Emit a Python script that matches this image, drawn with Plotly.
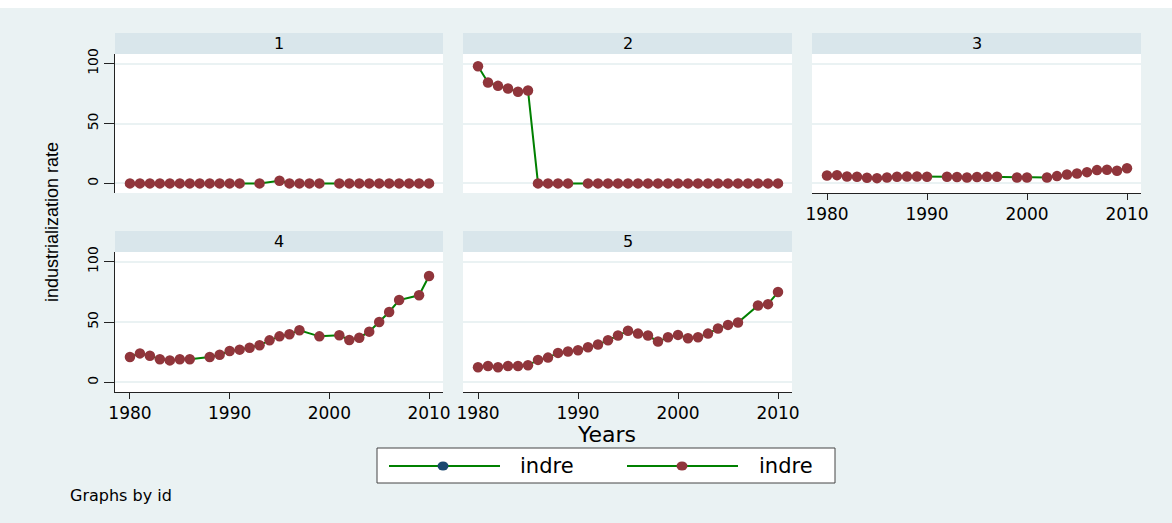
import plotly.graph_objects as go

# ---------------- data ----------------
years = list(range(1980, 2011))

indre_id1 = [0, 0, 0, 0, 0, 0, 0, 0, 0, 0, 0, 0, None, 0, None, 2.2,
             0, 0, 0, 0, None, 0, 0, 0, 0, 0, 0, 0, 0, 0, 0]
indre_id2 = [97.8, 84.2, 81.4, 79.2, 76.5, 77.6, 0, 0, 0, 0, None, 0, 0, 0, 0, 0,
             0, 0, 0, 0, 0, 0, 0, 0, 0, 0, 0, 0, 0, 0, 0]
indre_id3 = [6.6, 6.9, 5.8, 5.5, 4.7, 4.4, 5.0, 5.5, 5.8, 5.8, 5.5, None, 5.5, 5.3, 5.0, 5.3,
             5.5, 5.5, None, 5.0, 5.0, None, 5.0, 6.1, 7.5, 8.3, 9.4, 11.1, 11.4, 10.5, 12.7]
indre_id4 = [21.0, 24.0, 22.1, 19.1, 18.2, 19.1, 19.1, None, 21.0, 22.9, 26.0, 27.1, 28.7, 30.7, 34.8, 38.1,
             39.8, 43.1, None, 38.1, None, 39.0, 35.1, 37.0, 42.0, 50.0, 58.3, 68.2, None, 72.1, 88.1]
indre_id5 = [12.5, 13.6, 12.5, 13.6, 13.6, 14.1, 18.6, 20.5, 24.4, 25.5, 26.6, 29.1, 31.3, 34.9, 38.8, 42.7,
             40.4, 38.8, 33.8, 37.4, 39.3, 36.6, 37.4, 40.4, 44.6, 47.6, 49.6, None, 63.7, 64.8, 74.8]

panel_ids = ["1", "2", "3", "4", "5"]
panel_series = [indre_id1, indre_id2, indre_id3, indre_id4, indre_id5]
legend_labels = ["indre", "indre"]

x_ticks = [1980, 1990, 2000, 2010]
y_ticks = [0, 50, 100]

# ---------------- styling ----------------
W, H = 1172, 523
BG = "#EAF2F3"
STRIP = "#D9E6EB"
GRID = "#EAF2F3"
LINE_GREEN = "#008000"
MAROON = "#90353B"
NAVY = "#1A476F"
FONT = "DejaVu Sans"


def px(x):
    return x / W


def py(y):
    return 1 - y / H


# panel pixel boxes: (left, right, top, bottom, header top, header bottom)
boxes = [
    (115, 443, 54, 193, 33, 54),
    (463, 792, 54, 193, 33, 54),
    (812, 1141, 54, 193, 33, 54),
    (115, 443, 252, 392, 231, 252),
    (463, 792, 252, 392, 231, 252),
]
show_y = [True, False, False, True, False]
show_x = [False, False, True, True, True]

fig = go.Figure()
shapes = []
annotations = []

for i, (pid, vals, box) in enumerate(zip(panel_ids, panel_series, boxes)):
    n = "" if i == 0 else str(i + 1)
    l, r, t, b, ht, hb = box
    fig.add_trace(go.Scatter(
        x=years, y=vals, mode="lines+markers", connectgaps=True,
        line=dict(color=LINE_GREEN, width=2),
        marker=dict(color=MAROON, size=10.5, line=dict(width=0)),
        xaxis="x" + n, yaxis="y" + n, showlegend=False, hoverinfo="x+y",
    ))
    fig.layout["xaxis" + n] = dict(
        domain=[px(l), px(r)], range=[1978.5, 2011.4], anchor="y" + n,
        automargin=False,
        tickvals=x_ticks if show_x[i] else [], showticklabels=show_x[i],
        ticks="outside" if show_x[i] else "", ticklen=6, tickcolor="#222",
        showline=show_x[i], linecolor="#222", linewidth=1,
        showgrid=False, zeroline=False,
        tickfont=dict(family=FONT, size=17, color="black"),
    )
    fig.layout["yaxis" + n] = dict(
        domain=[py(b), py(t)], range=[-8, 108], anchor="x" + n,
        automargin=False,
        tickvals=y_ticks, showticklabels=show_y[i], tickangle=-90,
        ticks="outside" if show_y[i] else "", ticklen=10, tickcolor="#222",
        showline=show_y[i], linecolor="#222", linewidth=1,
        showgrid=True, gridcolor=GRID, gridwidth=2, zeroline=False,
        tickfont=dict(family=FONT, size=14, color="black"),
    )
    # header strip
    shapes.append(dict(type="rect", xref="paper", yref="paper",
                       x0=px(l), x1=px(r), y0=py(hb), y1=py(ht),
                       fillcolor=STRIP, line=dict(width=0), layer="below"))
    annotations.append(dict(text=pid, xref="paper", yref="paper",
                            x=px((l + r) / 2), y=py((ht + hb) / 2),
                            xanchor="center", yanchor="middle", showarrow=False,
                            font=dict(family=FONT, size=16, color="black")))

# white top band
shapes.append(dict(type="rect", xref="paper", yref="paper", x0=0, x1=1,
                   y0=py(8), y1=1, fillcolor="white", line=dict(width=0), layer="below"))

# y title
annotations.append(dict(text="industrialization rate", xref="paper", yref="paper",
                        x=px(52), y=py(222), textangle=-90, showarrow=False,
                        xanchor="center", yanchor="middle",
                        font=dict(family="Liberation Sans", size=18, color="black")))
# x title
annotations.append(dict(text="Years", xref="paper", yref="paper",
                        x=px(606), y=py(434), showarrow=False,
                        xanchor="center", yanchor="middle",
                        font=dict(family=FONT, size=22, color="black")))
# note
annotations.append(dict(text="Graphs by id", xref="paper", yref="paper",
                        x=px(68), y=py(495), showarrow=False,
                        xanchor="left", yanchor="middle",
                        font=dict(family=FONT, size=16, color="black")))

# legend (manual, Stata style)
shapes.append(dict(type="rect", xref="paper", yref="paper",
                   x0=px(377), x1=px(835), y0=py(483), y1=py(448),
                   fillcolor="white", line=dict(color="#444", width=1)))
leg_items = [(389, 500, 443, 518, NAVY), (627, 738, 682, 757, MAROON)]
ly = 466
for (x0, x1, xm, xt, col), lab in zip(leg_items, legend_labels):
    shapes.append(dict(type="line", xref="paper", yref="paper",
                       x0=px(x0), x1=px(x1), y0=py(ly), y1=py(ly),
                       line=dict(color=LINE_GREEN, width=2)))
    shapes.append(dict(type="circle", xref="paper", yref="paper",
                       x0=px(xm - 5.5), x1=px(xm + 5.5), y0=py(ly + 4.5), y1=py(ly - 4.5),
                       fillcolor=col, line=dict(width=0)))
    annotations.append(dict(text=lab, xref="paper", yref="paper",
                            x=px(xt), y=py(ly), showarrow=False,
                            xanchor="left", yanchor="middle",
                            font=dict(family=FONT, size=21, color="black")))

fig.update_layout(
    width=W, height=H, margin=dict(l=0, r=0, t=0, b=0, autoexpand=False),
    paper_bgcolor=BG, plot_bgcolor="white",
    shapes=shapes, annotations=annotations, showlegend=False,
    font=dict(family=FONT, color="black"),
)

fig.write_html(
    "out.html",
    config={"displayModeBar": False},
    post_script="document.body.style.margin='0';document.body.style.overflow='hidden';",
)
